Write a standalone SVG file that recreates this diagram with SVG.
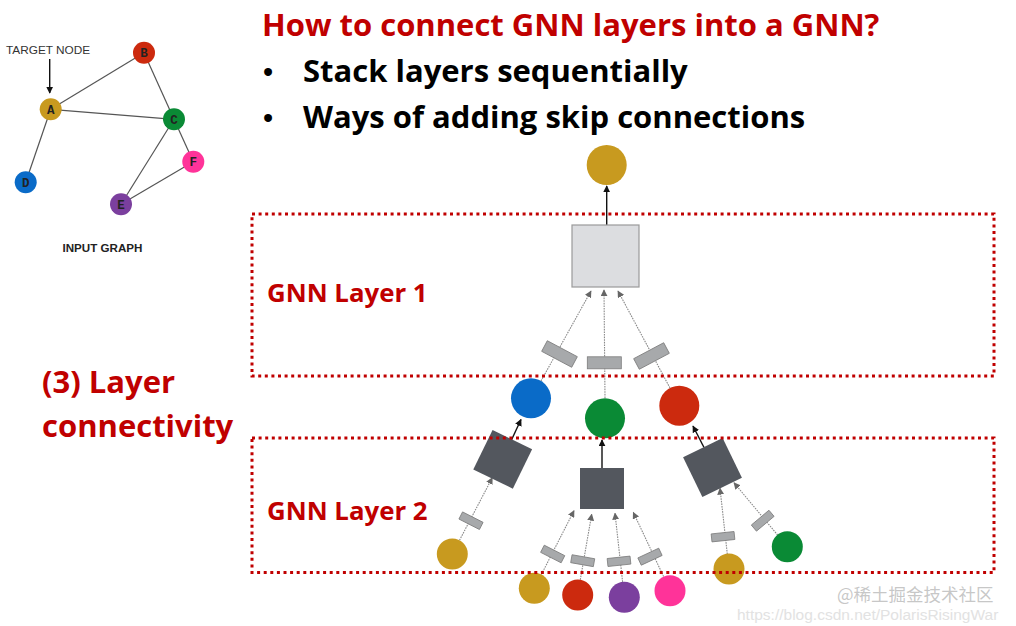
<svg xmlns="http://www.w3.org/2000/svg" width="1016" height="626" viewBox="0 0 1016 626">
<style>
.title{font-family:"Open Sans",Lato,sans-serif;font-weight:bold;font-size:31px;fill:#C00000}
.bul{font-family:"Open Sans",Lato,sans-serif;font-weight:bold;font-size:31px;fill:#000}
.dotb{font-family:"Liberation Sans",Arial,sans-serif;font-size:29px;fill:#000}
.lay{font-family:"Open Sans",Lato,sans-serif;font-weight:bold;font-size:25.8px;fill:#C00000}
.frame{fill:none;stroke:#C00000;stroke-width:3;stroke-dasharray:3 3.6}
.edge{stroke:#555;stroke-width:1.2;fill:none}
.lt{font-family:"Liberation Mono",monospace;font-weight:bold;font-size:12.5px;fill:#222;text-anchor:middle}
.solid{stroke:#111;stroke-width:1.4;fill:none}
.dot{stroke:#8a8a8a;stroke-width:1.1;stroke-dasharray:1.6 1;fill:none}
.w{fill:#A7A9AB;stroke:#7d7d7d;stroke-width:0.8}
.dsq{fill:#53575E}
.gold{fill:#C89A1F}.red{fill:#CC2A0E}.green{fill:#0A8A35}.blue{fill:#0A6BC8}.purple{fill:#7B3F9E}.pink{fill:#FF3399}
</style>
<defs>
<marker id="ab" viewBox="0 0 10 10" refX="9" refY="5" markerWidth="7" markerHeight="7" markerUnits="userSpaceOnUse" orient="auto"><path d="M0,0 L10,5 L0,10 z" fill="#111"/></marker>
<marker id="ag" viewBox="0 0 10 10" refX="9" refY="5" markerWidth="7" markerHeight="7" markerUnits="userSpaceOnUse" orient="auto"><path d="M0,0 L10,5 L0,10 z" fill="#666"/></marker>
</defs>
<rect width="1016" height="626" fill="#fff"/>

<!-- Input graph -->
<g id="input-graph">
  <text x="6" y="54" font-family="Liberation Sans,Arial,sans-serif" font-size="11.8" fill="#333">TARGET NODE</text>
  <line x1="49.7" y1="59" x2="49.7" y2="93" class="solid" marker-end="url(#ab)"/>
  <g id="graph-edges">
    <line x1="50.7" y1="109.3" x2="144" y2="52.7" class="edge"/>
    <line x1="50.7" y1="109.3" x2="174" y2="119.3" class="edge"/>
    <line x1="50.7" y1="109.3" x2="25.7" y2="182.3" class="edge"/>
    <line x1="144" y1="52.7" x2="174" y2="119.3" class="edge"/>
    <line x1="174" y1="119.3" x2="121" y2="204.3" class="edge"/>
    <line x1="174" y1="119.3" x2="193.3" y2="161.7" class="edge"/>
    <line x1="121" y1="204.3" x2="193.3" y2="161.7" class="edge"/>
  </g>
  <g id="gA"><circle cx="50.7" cy="109.3" r="11" class="gold"/><text x="50.7" y="113.5" class="lt">A</text></g>
  <g id="gB"><circle cx="144" cy="52.7" r="11" class="red"/><text x="144" y="56.9" class="lt">B</text></g>
  <g id="gC"><circle cx="174" cy="119.3" r="11" class="green"/><text x="174" y="123.5" class="lt">C</text></g>
  <g id="gD"><circle cx="25.7" cy="182.3" r="11" class="blue"/><text x="25.7" y="186.5" class="lt">D</text></g>
  <g id="gE"><circle cx="121" cy="204.3" r="11" class="purple"/><text x="121" y="208.5" class="lt">E</text></g>
  <g id="gF"><circle cx="193.3" cy="161.7" r="11" class="pink"/><text x="193.3" y="165.9" class="lt">F</text></g>
  <text x="62.5" y="251.5" font-family="Liberation Sans,Arial,sans-serif" font-weight="bold" font-size="11.6" fill="#222">INPUT GRAPH</text>
</g>

<!-- Texts -->
<text x="262" y="36" class="title">How to connect GNN layers into a GNN?</text>
<text x="263" y="82" class="dotb">•</text>
<text x="303" y="82" class="bul">Stack layers sequentially</text>
<text x="263" y="128" class="dotb">•</text>
<text x="303" y="128" class="bul">Ways of adding skip connections</text>
<text x="42" y="393" class="title">(3) Layer</text>
<text x="42" y="437" class="title">connectivity</text>

<!-- Connectors -->
<g id="connectors">
  <line x1="606.7" y1="225" x2="606.7" y2="186" class="solid" marker-end="url(#ab)"/>
  <line x1="541" y1="381" x2="591" y2="291" class="dot" marker-end="url(#ag)"/>
  <line x1="605" y1="398" x2="604" y2="290" class="dot" marker-end="url(#ag)"/>
  <line x1="670" y1="388" x2="618" y2="291" class="dot" marker-end="url(#ag)"/>
  <line x1="511" y1="441" x2="521" y2="419.5" class="solid" marker-end="url(#ab)"/>
  <line x1="602" y1="468" x2="602" y2="440" class="solid" marker-end="url(#ab)"/>
  <line x1="704" y1="447.5" x2="693" y2="426" class="solid" marker-end="url(#ab)"/>
  <line x1="459.5" y1="540.3" x2="492.3" y2="477.7" class="dot" marker-end="url(#ag)"/>
  <line x1="541.4" y1="574.5" x2="574" y2="510.7" class="dot" marker-end="url(#ag)"/>
  <line x1="580.3" y1="579.7" x2="591.7" y2="514.3" class="dot" marker-end="url(#ag)"/>
  <line x1="622.6" y1="581.9" x2="615" y2="513.3" class="dot" marker-end="url(#ag)"/>
  <line x1="663.6" y1="576.6" x2="633.3" y2="512.3" class="dot" marker-end="url(#ag)"/>
  <line x1="727.3" y1="554.1" x2="720" y2="488.3" class="dot" marker-end="url(#ag)"/>
  <line x1="777.7" y1="535.2" x2="734" y2="482.7" class="dot" marker-end="url(#ag)"/>
</g>

<!-- weight blocks -->
<g id="weights">
  <rect x="-17" y="-6" width="34" height="12" class="w" transform="translate(559.5 354) rotate(28)"/>
  <rect x="-17" y="-6" width="34" height="12" class="w" transform="translate(604.3 362.8)"/>
  <rect x="-17" y="-6" width="34" height="12" class="w" transform="translate(651.5 356) rotate(-28)"/>
  <rect x="-11.5" y="-4" width="23" height="8" class="w" transform="translate(471 520.7) rotate(27)"/>
  <rect x="-11.5" y="-4" width="23" height="8" class="w" transform="translate(552.7 554) rotate(27)"/>
  <rect x="-11.5" y="-4" width="23" height="8" class="w" transform="translate(582.7 560.7) rotate(10)"/>
  <rect x="-11.5" y="-4" width="23" height="8" class="w" transform="translate(619 561.3) rotate(-6)"/>
  <rect x="-11.5" y="-4" width="23" height="8" class="w" transform="translate(650 556.7) rotate(-25)"/>
  <rect x="-11.5" y="-4" width="23" height="8" class="w" transform="translate(723 536.7) rotate(-6)"/>
  <rect x="-11.5" y="-4" width="23" height="8" class="w" transform="translate(762.7 520.7) rotate(-40)"/>
</g>

<!-- Nodes -->
<g id="out-node"><circle cx="606.7" cy="165" r="20" class="gold"/></g>
<g id="layer1-agg"><rect x="572" y="225" width="67" height="62" fill="#DCDDE0" stroke="#9a9a9a" stroke-width="1.2"/></g>
<g id="l1-blue"><circle cx="531" cy="398.3" r="20" class="blue"/></g>
<g id="l1-green"><circle cx="605" cy="418.3" r="20" class="green"/></g>
<g id="l1-red"><circle cx="679.3" cy="405.7" r="20" class="red"/></g>
<g id="l2-agg-left"><rect x="-22" y="-22" width="44" height="44" class="dsq" transform="translate(502.7 459.3) rotate(26)"/></g>
<g id="l2-agg-mid"><rect x="580" y="468" width="44" height="41" class="dsq"/></g>
<g id="l2-agg-right"><rect x="-22" y="-22" width="44" height="44" class="dsq" transform="translate(712.5 467.5) rotate(-26)"/></g>
<g id="in-gold-1"><circle cx="452.3" cy="554" r="15.5" class="gold"/></g>
<g id="in-gold-2"><circle cx="534.3" cy="588.3" r="15.5" class="gold"/></g>
<g id="in-red"><circle cx="577.7" cy="595" r="15.5" class="red"/></g>
<g id="in-purple"><circle cx="624.3" cy="597.3" r="15.5" class="purple"/></g>
<g id="in-pink"><circle cx="670" cy="590.7" r="15.5" class="pink"/></g>
<g id="in-gold-3"><circle cx="729" cy="569" r="15.5" class="gold"/></g>
<g id="in-green"><circle cx="787.3" cy="546.7" r="15.5" class="green"/></g>

<!-- Layer frames -->
<g id="layer1">
  <rect x="252" y="214" width="742" height="162" class="frame"/>
  <text x="267" y="302" class="lay">GNN Layer 1</text>
</g>
<g id="layer2">
  <rect x="252" y="438" width="742" height="134.5" class="frame"/>
  <text x="267" y="520" class="lay">GNN Layer 2</text>
</g>

<!-- watermark -->
<text x="737" y="619.5" font-family="Liberation Sans,Arial,sans-serif" font-size="15.5" fill="#e2e2e2">https://blog.csdn.net/PolarisRisingWar</text>
<text x="837" y="601" font-family="Noto Sans CJK SC,sans-serif" font-size="17.5" fill="#bdbdbd" fill-opacity="0.85">@稀土掘金技术社区</text>
</svg>
